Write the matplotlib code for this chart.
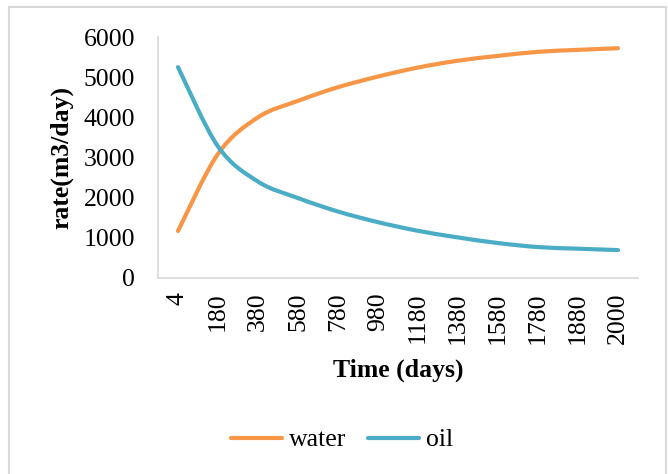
import matplotlib.pyplot as plt
from matplotlib.path import Path
from matplotlib.patches import PathPatch, Rectangle
from matplotlib.lines import Line2D

# Production rates over time
tempo = ['4', '180', '380', '580', '780', '980', '1180', '1380', '1580', '1780', '1880', '2000']
water = [1170, 3090, 4000, 4410, 4750, 5015, 5240, 5410, 5530, 5630, 5680, 5720]
oil = [5250, 3275, 2400, 1990, 1655, 1390, 1175, 1010, 870, 770, 730, 695]

cor_water = '#F79646'
cor_oil = '#4BACC6'
fs = 18.5

plt.rcParams['font.family'] = ['Liberation Serif', 'DejaVu Serif']


def curva_suave(ax, ys, cor):
    # curva de Bezier passando pelos pontos (suavizacao tipo Excel)
    xs = list(range(len(ys)))
    pts = list(zip(xs, ys))
    verts = [pts[0]]
    codes = [Path.MOVETO]
    n = len(pts)
    for i in range(n - 1):
        p0 = pts[i - 1] if i > 0 else pts[i]
        p1 = pts[i]
        p2 = pts[i + 1]
        p3 = pts[i + 2] if i + 2 < n else pts[i + 1]
        c1 = (p1[0] + (p2[0] - p0[0]) / 6, p1[1] + (p2[1] - p0[1]) / 6)
        c2 = (p2[0] - (p3[0] - p1[0]) / 6, p2[1] - (p3[1] - p1[1]) / 6)
        verts += [c1, c2, p2]
        codes += [Path.CURVE4] * 3
    patch = PathPatch(Path(verts, codes), facecolor='none', edgecolor=cor,
                      lw=3.0, capstyle='round', joinstyle='round')
    ax.add_patch(patch)


fig = plt.figure(figsize=(6.68, 4.74), dpi=100)
ax = fig.add_axes([158 / 668, 1 - 278 / 474, 480 / 668, 241 / 474])

curva_suave(ax, water, cor_water)
curva_suave(ax, oil, cor_oil)

ax.set_xlim(-0.5, len(tempo) - 0.5)
ax.set_ylim(0, 6000)
ax.set_yticks(range(0, 6001, 1000))
ax.set_xticks(range(len(tempo)))
ax.set_xticklabels(tempo, rotation=90)
ax.tick_params(axis='both', length=0, labelsize=fs)
ax.tick_params(axis='y', pad=16.5)
ax.tick_params(axis='x', pad=10.5)

for lado in ['top', 'right']:
    ax.spines[lado].set_visible(False)
for lado in ['left', 'bottom']:
    ax.spines[lado].set_color('#d9d9d9')
    ax.spines[lado].set_linewidth(1.2)

ax.set_xlabel('Time (days)', fontsize=fs, fontweight='bold')
ax.set_ylabel('rate(m3/day)', fontsize=fs, fontweight='bold')
ax.xaxis.set_label_coords(0.5, (278 - 359) / 241)
ax.yaxis.set_label_coords((73 - 158) / 480, 0.5)

# legenda abaixo do grafico
handles = [Line2D([], [], color=cor_water, lw=3.0, solid_capstyle='round'),
           Line2D([], [], color=cor_oil, lw=3.0, solid_capstyle='round')]
fig.legend(handles, ['water', 'oil'], loc='center', bbox_to_anchor=(342 / 668, 1 - 440 / 474),
           ncol=2, frameon=False, fontsize=fs, handlelength=2.0, handletextpad=0.27,
           columnspacing=0.85)

# borda do grafico
fig.patches.append(Rectangle((9 / 668, -0.05), 657 / 668, 1 - 7 / 474 + 0.05,
                             transform=fig.transFigure, fill=False,
                             edgecolor='#d9d9d9', lw=1.5))

fig.savefig('out.png', dpi=100)
